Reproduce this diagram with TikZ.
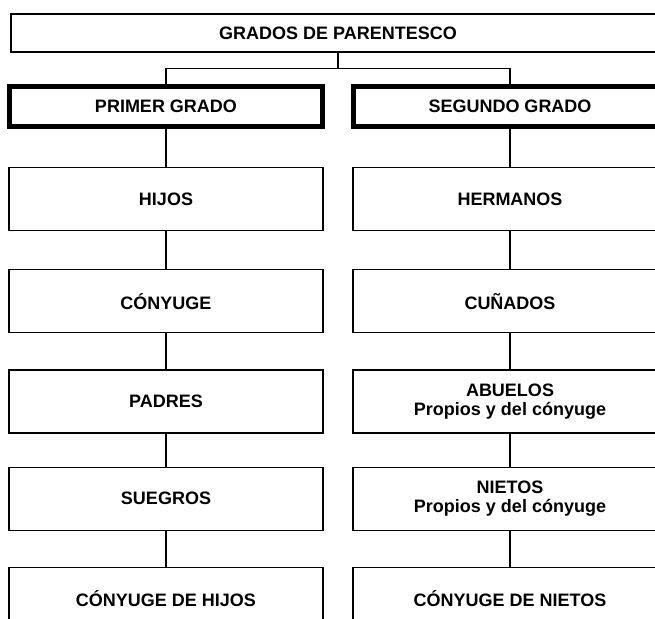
\documentclass[tikz,border=0pt]{standalone}
\usepackage{fontspec}
\setmainfont{Liberation Sans}
\usetikzlibrary{positioning}

\begin{document}
\begin{tikzpicture}[x=1pt, y=-1pt, node distance=36pt, every node/.style={font=\fontsize{18}{19}\selectfont\bfseries}]
            \tikzset{
                titulo/.style={
                        draw, line width=1.2pt, minimum width=654pt, minimum height=38pt, inner sep=0pt
                    },
                grado/.style={
                        draw, line width=5pt, minimum width=313pt, minimum height=40pt, inner sep=0pt
                    },
                pariente/.style={
                        draw, line width=1.2pt, minimum width=314pt, minimum height=63pt, inner sep=0pt, align=center
                    }
            }

            \clip (0,0) rectangle (655,618);

            % Title
            \node[titulo] (titulo) at (338,33) {GRADOS DE PARENTESCO};

            % Degrees
            \node[grado] (primer) at (166,106.5) {PRIMER GRADO};
            \node[grado] (segundo) at (510,106.5) {SEGUNDO GRADO};

            % First degree
            \node[pariente] (hijos) [below=38pt of primer] {HIJOS};
            \node[pariente] (conyuge) [below=38pt of hijos] {CÓNYUGE};
            \node[pariente] (padres) [below=of conyuge] {PADRES};
            \node[pariente] (suegros) [below=33pt of padres] {SUEGROS};
            \node[pariente] (conyhijos) [below=of suegros] {CÓNYUGE DE HIJOS};

            % Second degree
            \node[pariente] (hermanos) [below=38pt of segundo] {HERMANOS};
            \node[pariente] (cunados) [below=38pt of hermanos] {CUÑADOS};
            \node[pariente] (abuelos) [below=of cunados] {ABUELOS\\Propios y del cónyuge};
            \node[pariente] (nietos) [below=33pt of abuelos] {NIETOS\\Propios y del cónyuge};
            \node[pariente] (conynietos) [below=of nietos] {CÓNYUGE DE NIETOS};

            % Branches
            \coordinate (fork) at ([yshift=-16pt]titulo.south);
            \draw[line width=1.2pt] (titulo.south) -- (fork);
            \draw[line width=1.2pt] (primer.north) |- (fork) -| (segundo.north);

            % Links
            \draw[line width=1.2pt] (primer) -- (hijos);
            \draw[line width=1.2pt] (hijos) -- (conyuge);
            \draw[line width=1.2pt] (conyuge) -- (padres);
            \draw[line width=1.2pt] (padres) -- (suegros);
            \draw[line width=1.2pt] (suegros) -- (conyhijos);

            \draw[line width=1.2pt] (segundo) -- (hermanos);
            \draw[line width=1.2pt] (hermanos) -- (cunados);
            \draw[line width=1.2pt] (cunados) -- (abuelos);
            \draw[line width=1.2pt] (abuelos) -- (nietos);
            \draw[line width=1.2pt] (nietos) -- (conynietos);
        \end{tikzpicture}
\end{document}
